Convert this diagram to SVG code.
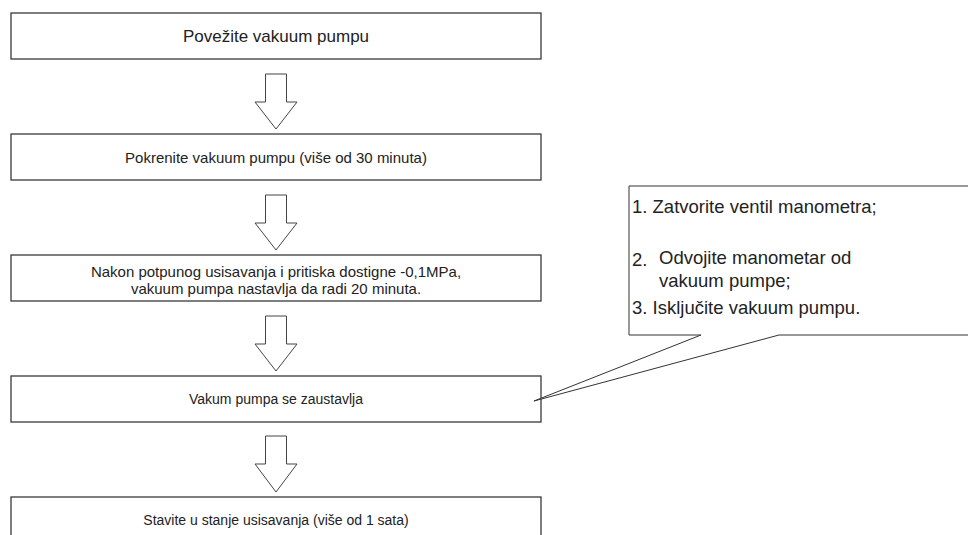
<svg xmlns="http://www.w3.org/2000/svg" width="968" height="535" viewBox="0 0 968 535">
<style>
.box{fill:#fff;stroke:#3a3a3a;stroke-width:1.3}
.arr{fill:#fff;stroke:#444;stroke-width:1}
.t{font-family:"Liberation Sans",Arial,sans-serif;font-size:14px;fill:#222;text-anchor:middle}
.c{font-family:"Liberation Sans",Arial,sans-serif;font-size:18.5px;fill:#222}
.call{fill:#fff;stroke:#333;stroke-width:1}
</style>
<rect width="968" height="535" fill="#fff"/>
<g id="connectors">
<polygon class="arr" points="265.5,74 286.5,74 286.5,102 297,102 276,129 255,102 265.5,102"/>
<polygon class="arr" points="265.5,195 286.5,195 286.5,223 297,223 276,250 255,223 265.5,223"/>
<polygon class="arr" points="265.5,316 286.5,316 286.5,344 297,344 276,371 255,344 265.5,344"/>
<polygon class="arr" points="265.5,436 286.5,436 286.5,464 297,464 276,492 255,464 265.5,464"/>
</g>
<g id="n1"><rect class="box" x="11" y="13" width="530" height="46"/><text class="t" x="276" y="42" style="font-size:17px">Povežite vakuum pumpu</text></g>
<g id="n2"><rect class="box" x="11" y="134" width="530" height="46"/><text class="t" x="276" y="162.5" style="font-size:15px">Pokrenite vakuum pumpu (više od 30 minuta)</text></g>
<g id="n3"><rect class="box" x="11" y="255" width="530" height="46"/><text class="t" x="276" y="276.5" style="font-size:15px">Nakon potpunog usisavanja i pritiska dostigne -0,1MPa,</text><text class="t" x="276" y="293.5" style="font-size:15px">vakuum pumpa nastavlja da radi 20 minuta.</text></g>
<g id="n4"><rect class="box" x="11" y="376" width="530" height="46"/><text class="t" x="276" y="404">Vakum pumpa se zaustavlja</text></g>
<g id="n5"><rect class="box" x="11" y="497" width="530" height="46"/><text class="t" x="276" y="525">Stavite u stanje usisavanja (više od 1 sata)</text></g>
<g id="callout">
<path class="call" d="M629,186 H975 V335 H779 L534,401 L701,335 H629 Z"/>
<text class="c" x="632" y="213">1. Zatvorite ventil manometra;</text>
<text class="c" x="632" y="266">2.</text>
<text class="c" x="659" y="264">Odvojite manometar od</text>
<text class="c" x="659" y="287">vakuum pumpe;</text>
<text class="c" x="632" y="314">3. Isključite vakuum pumpu.</text>
</g>
</svg>
